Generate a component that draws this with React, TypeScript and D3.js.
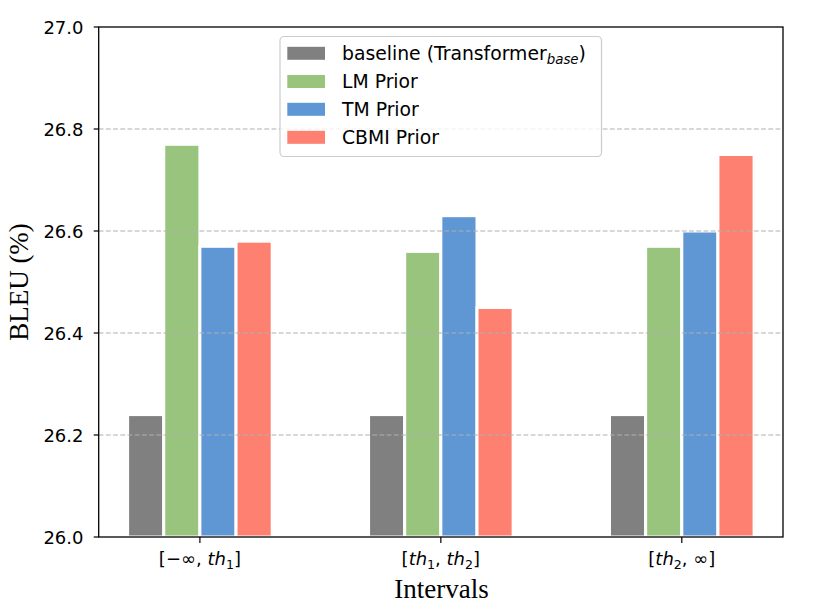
import React from "react";
import { scaleLinear, scaleBand } from "d3";

// data
const intervals = ["lo", "mid", "hi"];
const seriesNames = ["baseline", "LM Prior", "TM Prior", "CBMI Prior"];
const seriesColors = ["#808080", "#98c47e", "#5e97d3", "#fd8070"];
const baselineVals = [26.24, 26.24, 26.24];
const lmPriorVals = [26.77, 26.56, 26.57];
const tmPriorVals = [26.57, 26.63, 26.6];
const cbmiPriorVals = [26.58, 26.45, 26.75];
const yTicks = [26.0, 26.2, 26.4, 26.6, 26.8, 27.0];
const gridTicks = [26.2, 26.4, 26.6, 26.8];

// tick label pieces: [text, kind] kind: "" upright, "i" italic, "s" subscript
const tickLabels: [string, string][][] = [
  [["[−∞, ", ""], ["th", "i"], ["1", "s"], ["]", ""]],
  [["[", ""], ["th", "i"], ["1", "s"], [", ", ""], ["th", "i"], ["2", "s"], ["]", ""]],
  [["[", ""], ["th", "i"], ["2", "s"], [", ∞]", ""]],
];

const values = [baselineVals, lmPriorVals, tmPriorVals, cbmiPriorVals];

const W = 831;
const H = 605;
const left = 98.7;
const right = 783;
const top = 27;
const bottom = 537;
const font = "'DejaVu Sans', sans-serif";
const serif = "'Liberation Serif', 'Times New Roman', serif";

function MathLabel({ parts, x, y }: { parts: [string, string][]; x: number; y: number }) {
  let shifted = false;
  return (
    <text x={x} y={y} textAnchor="middle" fontFamily={font} fontSize={18} fill="#000">
      {parts.map(([t, k], i) => {
        let dy = 0;
        if (k === "s" && !shifted) { dy = 4; shifted = true; }
        else if (k !== "s" && shifted) { dy = -4; shifted = false; }
        return (
          <tspan key={i} dy={dy || undefined}
            fontStyle={k === "i" ? "italic" : undefined}
            fontSize={k === "s" ? 12.6 : undefined}>
            {t}
          </tspan>
        );
      })}
    </text>
  );
}

export default function App() {
  const x = scaleLinear().domain([-0.42, 2.42]).range([left, right]);
  const y = scaleLinear().domain([26, 27]).range([bottom, top]);
  const barW = 0.15;
  const inner = scaleBand<number>()
    .domain(seriesNames.map((_, i) => i))
    .range([-2 * barW, 2 * barW]);

  const legendRows = [53.3, 81.5, 109.3, 137.3];

  return (
    <svg width={W} height={H} style={{ position: "absolute", left: 0, top: 0, background: "#fff" }}>
      {/* bars */}
      {values.map((vals, si) =>
        vals.map((v, gi) => {
          const x0 = x(gi + inner(si)!);
          const x1 = x(gi + inner(si)! + inner.bandwidth());
          return (
            <rect key={`${si}-${gi}`} x={x0} y={y(v)} width={x1 - x0} height={y(26) - y(v)}
              fill={seriesColors[si]} stroke="#fff" strokeWidth={3} />
          );
        })
      )}
      {/* grid over bars */}
      {gridTicks.map((t) => (
        <line key={t} x1={left} x2={right} y1={y(t)} y2={y(t)}
          stroke="#b0b0b0" strokeWidth={1.1} strokeDasharray="4.8,2.4" />
      ))}
      {/* frame */}
      <rect x={left} y={top} width={right - left} height={bottom - top} fill="none" stroke="#000" strokeWidth={1.3} />
      {/* y ticks */}
      {yTicks.map((t) => (
        <g key={t}>
          <line x1={left - 5} x2={left} y1={y(t)} y2={y(t)} stroke="#000" strokeWidth={1.2} />
          <text x={83.5} y={y(t) + 6.5} textAnchor="end" fontFamily={font} fontSize={18} fill="#000">
            {t.toFixed(1)}
          </text>
        </g>
      ))}
      {/* x ticks */}
      {intervals.map((_, gi) => (
        <g key={gi}>
          <line x1={x(gi)} x2={x(gi)} y1={bottom} y2={bottom + 6} stroke="#000" strokeWidth={1.2} />
          <MathLabel parts={tickLabels[gi]} x={x(gi)} y={565} />
        </g>
      ))}
      {/* axis titles */}
      <text x={441.5} y={597.5} textAnchor="middle" fontFamily={serif} fontSize={27} fill="#000">Intervals</text>
      <text transform={`translate(28,${(top + bottom) / 2}) rotate(-90)`} textAnchor="middle"
        fontFamily={serif} fontSize={27} fill="#000">BLEU (%)</text>
      {/* legend */}
      <rect x={280} y={36.5} width={321.5} height={120} rx={4} fill="#fff" fillOpacity={0.8} stroke="#cccccc" strokeWidth={1.2} />
      {seriesNames.map((n, i) => (
        <g key={n}>
          <rect x={287.3} y={legendRows[i] - 6.5} width={37.7} height={13} fill={seriesColors[i]} />
          <text x={342} y={legendRows[i] + 6.8} fontFamily={font} fontSize={18.8} fill="#000">
            {i === 0 ? (
              <>
                baseline (Transformer
                <tspan dy={4.2} fontSize={13.4} fontStyle="italic">base</tspan>
                <tspan dy={-4.2}>)</tspan>
              </>
            ) : n}
          </text>
        </g>
      ))}
    </svg>
  );
}
